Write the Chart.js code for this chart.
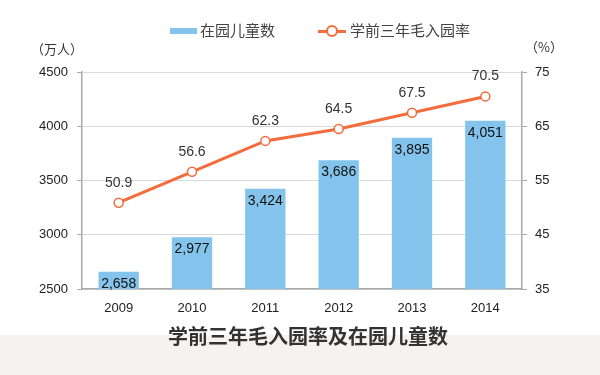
<!DOCTYPE html>
<html>
<head>
<meta charset="utf-8">
<script src="https://cdn.jsdelivr.net/npm/chart.js@4"></script>
<style>
body { margin: 0; background: #fff; font-family: "Liberation Sans", Arial, sans-serif; }
#wrap { position: relative; width: 600px; height: 375px; overflow: hidden; }
#band { position: absolute; left: 0; top: 335px; width: 600px; height: 40px; background: #f4f3f1; }
canvas { position: absolute; left: 0; top: 0; }
.txt { position: absolute; color: #333; white-space: nowrap; }
#title { left: 8px; width: 600px; top: 321px; text-align: center; font: bold 20px "Noto Sans CJK SC", sans-serif; color: #333; }
.leg { font: 15px "Noto Sans CJK SC", sans-serif; color: #444; top: 19px; }
.unit { font: 13px "Noto Sans CJK SC", sans-serif; color: #333; }
</style>
</head>
<body>
<div id="wrap">
  <div id="band"></div>
  <canvas id="myChart" width="600" height="375"></canvas>
  <div class="txt leg" style="left:170px;top:28px;width:27px;height:6px;background:#84c3ec;"></div>
  <div class="txt leg" style="left:200px;">在园儿童数</div>
  <div class="txt leg" style="left:318px;top:30px;width:28px;height:3px;background:#f26c3c;"></div>
  <div class="txt leg" style="left:326px;top:25px;width:8px;height:8px;border:2px solid #f26c3c;border-radius:50%;background:#fff;"></div>
  <div class="txt leg" style="left:350px;">学前三年毛入园率</div>
  <div class="txt unit" style="left:31px;top:39px;">（万人）</div>
  <div class="txt unit" style="left:525px;top:37px;">（%）</div>
  <div class="txt" id="title">学前三年毛入园率及在园儿童数</div>
</div>
<script>
// data
var years = ['2009', '2010', '2011', '2012', '2013', '2014'];
var children = [2658, 2977, 3424, 3686, 3895, 4051];
var rate = [50.9, 56.6, 62.3, 64.5, 67.5, 70.5];
var leftTicks = [2500, 3000, 3500, 4000, 4500];
var rightTicks = [35, 45, 55, 65, 75];

var labelPlugin = {
    id: 'labels',
    afterDatasetsDraw: function (chart) {
        var ctx = chart.ctx;
        ctx.save();
        ctx.textAlign = 'center';
        ctx.textBaseline = 'middle';
        ctx.font = '14px "Liberation Sans", Arial, sans-serif';
        var bars = chart.getDatasetMeta(0).data;
        bars.forEach(function (b, i) {
            ctx.fillStyle = '#111';
            var off = Math.min(12, (b.base - b.y) / 2);
            ctx.fillText(children[i].toLocaleString('en-US'), b.x, b.y + off);
        });
        var pts = chart.getDatasetMeta(1).data;
        pts.forEach(function (p, i) {
            ctx.fillStyle = '#333';
            ctx.fillText(rate[i].toFixed(1), p.x, p.y - 20);
        });
        ctx.restore();
    }
};

function plain(v) { return String(v); }

const ctx = document.getElementById('myChart');
new Chart(ctx, {
    data: {
        labels: years,
        datasets: [{
            type: 'bar',
            label: '在园儿童数',
            data: children,
            backgroundColor: '#84c3ec',
            yAxisID: 'y',
            categoryPercentage: 1,
            barPercentage: 0.55,
            order: 2
        }, {
            type: 'line',
            label: '学前三年毛入园率',
            data: rate,
            borderColor: '#f26c3c',
            borderWidth: 3,
            pointRadius: 4.5,
            pointBorderWidth: 1.5,
            pointBackgroundColor: '#fff',
            pointBorderColor: '#f26c3c',
            yAxisID: 'y1',
            order: 1
        }]
    },
    options: {
        responsive: false,
        animation: false,
        layout: { padding: { top: 72, left: 0, right: 0, bottom: 0 } },
        plugins: { legend: { display: false }, tooltip: { enabled: false } },
        scales: {
            x: {
                grid: { display: false, drawTicks: false },
                border: { color: '#a9a9a9', width: 1.5 },
                ticks: { color: '#222', font: { size: 13, family: 'Liberation Sans' }, padding: 12 },
                afterFit: function (s) { s.height = 86; }
            },
            y: {
                position: 'left',
                min: 2500, max: 4500,
                afterBuildTicks: function (s) { s.ticks = leftTicks.map(function (v) { return { value: v }; }); },
                grid: { color: '#d9d9d9', tickLength: 5, tickColor: '#a9a9a9' },
                border: { color: '#a9a9a9', width: 1.5 },
                ticks: { color: '#222', font: { size: 13, family: 'Liberation Sans' }, padding: 9, callback: plain },
                afterFit: function (s) { s.width = 82; }
            },
            y1: {
                position: 'right',
                min: 35, max: 75,
                afterBuildTicks: function (s) { s.ticks = rightTicks.map(function (v) { return { value: v }; }); },
                grid: { drawOnChartArea: false, tickLength: 5, tickColor: '#a9a9a9' },
                border: { color: '#a9a9a9', width: 1.5 },
                ticks: { color: '#222', font: { size: 13, family: 'Liberation Sans' }, padding: 8, callback: plain },
                afterFit: function (s) { s.width = 78; }
            }
        }
    },
    plugins: [labelPlugin]
});
</script>
</body>
</html>
